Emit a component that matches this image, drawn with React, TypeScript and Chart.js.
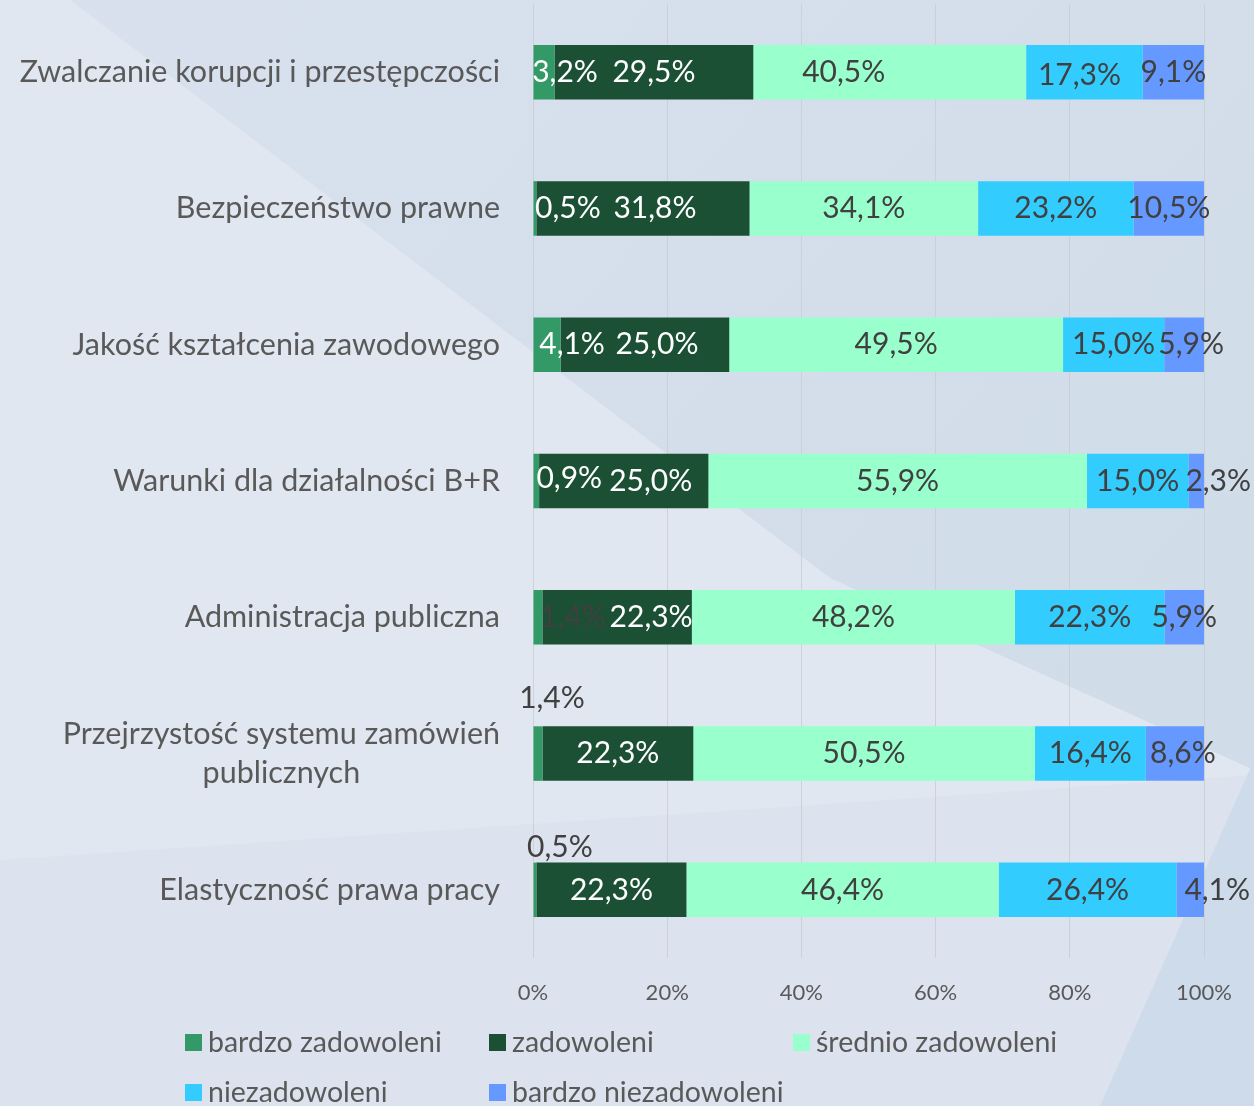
import React, { useEffect, useRef } from "react";
import { Chart, registerables } from "chart.js";

Chart.register(...registerables);

const categories: (string | string[])[] = [
  "Zwalczanie korupcji i przestępczości",
  "Bezpieczeństwo prawne",
  "Jakość kształcenia zawodowego",
  "Warunki dla działalności B+R",
  "Administracja publiczna",
  ["Przejrzystość systemu zamówień", "publicznych"],
  "Elastyczność prawa pracy",
];

const seriesNames = [
  "bardzo zadowoleni",
  "zadowoleni",
  "średnio zadowoleni",
  "niezadowoleni",
  "bardzo niezadowoleni",
];

const bardzoZadowoleni = [3.2, 0.5, 4.1, 0.9, 1.4, 1.4, 0.5];
const zadowoleni = [29.5, 31.8, 25.0, 25.0, 22.3, 22.3, 22.3];
const srednioZadowoleni = [40.5, 34.1, 49.5, 55.9, 48.2, 50.5, 46.4];
const niezadowoleni = [17.3, 23.2, 15.0, 15.0, 22.3, 16.4, 26.4];
const bardzoNiezadowoleni = [9.1, 10.5, 5.9, 2.3, 5.9, 8.6, 4.1];

const xTicks = [0, 20, 40, 60, 80, 100];

const seriesColors = ["#339966", "#1b5035", "#99ffcc", "#33ccff", "#6699ff"];

// label styling / manual label nudges (px) per series per category
const labelDx = [
  [21, 33, 25, 33, 35, 14, 25],
  [0, 12, 12, 27, 34, 0, 0],
  [-46, 0, 0, 0, 0, 0, 0],
  [-5, 0, 0, 0, 0, 0, 0],
  [0, 0, 7, 22, 0, 8, 27],
];
const labelDy = [
  [0, 0, 0, -3, 0, -55, -43],
  [0, 0, 0, 0, 0, 0, 0],
  [0, 0, 0, 0, 0, 0, 0],
  [3, 0, 0, 0, 0, 0, 0],
  [0, 0, 0, 0, 0, 0, 0],
];
const DARK = "#404040";
const labelColors = [
  ["#ffffff", "#ffffff", "#ffffff", "#ffffff", DARK, DARK, DARK],
  Array(7).fill("#ffffff"),
  Array(7).fill(DARK),
  Array(7).fill(DARK),
  Array(7).fill(DARK),
];

const FONT = "Lato, 'Noto Sans', sans-serif";
const TEXT = "#595959";
const CAT_FONT_SIZE = 30.5;
const CAT_LINE_H = 39;
const CAT_PAD = 33;

const rawSeries = [
  bardzoZadowoleni,
  zadowoleni,
  srednioZadowoleni,
  niezadowoleni,
  bardzoNiezadowoleni,
];
const rowSums = categories.map((_, i) =>
  rawSeries.reduce((s, arr) => s + arr[i], 0)
);

const fmt = (v: number) => v.toFixed(1).replace(".", ",") + "%";

const backgroundPlugin = {
  id: "bg",
  beforeDraw(chart: any) {
    const ctx = chart.ctx as CanvasRenderingContext2D;
    const w = chart.width;
    const h = chart.height;
    ctx.save();
    ctx.fillStyle = "#e1e7f0";
    ctx.fillRect(0, 0, w, h);
    const g = ctx.createLinearGradient(0, 0, w, h);
    g.addColorStop(0, "#d9e1ee");
    g.addColorStop(1, "#cfdbe8");
    ctx.fillStyle = g;
    ctx.beginPath();
    ctx.moveTo(70, 0);
    ctx.lineTo(w, 0);
    ctx.lineTo(w, 770);
    ctx.lineTo(830, 578);
    ctx.closePath();
    ctx.fill();
    ctx.fillStyle = "#dce3ef";
    ctx.beginPath();
    ctx.moveTo(0, 860);
    ctx.lineTo(w, 775);
    ctx.lineTo(w, h);
    ctx.lineTo(0, h);
    ctx.closePath();
    ctx.fill();
    ctx.fillStyle = "#cedbea";
    ctx.beginPath();
    ctx.moveTo(w, 760);
    ctx.lineTo(w, h);
    ctx.lineTo(1100, h);
    ctx.closePath();
    ctx.fill();
    ctx.restore();
  },
};

// category labels: right-aligned block, multi-line lines centred within block
const categoryLabelsPlugin = {
  id: "catLabels",
  afterDraw(chart: any) {
    const ctx = chart.ctx as CanvasRenderingContext2D;
    const yScale = chart.scales.y;
    const right = chart.chartArea.left - CAT_PAD;
    ctx.save();
    ctx.font = `${CAT_FONT_SIZE}px ${FONT}`;
    ctx.fillStyle = TEXT;
    ctx.textBaseline = "middle";
    ctx.textAlign = "center";
    categories.forEach((lab, i) => {
      const lines = Array.isArray(lab) ? lab : [lab];
      const y = yScale.getPixelForTick(i);
      const widths = lines.map((l) => ctx.measureText(l).width);
      const blockW = Math.max(...widths);
      const cx = right - blockW / 2;
      const y0 = y - ((lines.length - 1) * CAT_LINE_H) / 2;
      lines.forEach((l, k) => ctx.fillText(l, cx, y0 + k * CAT_LINE_H));
    });
    ctx.restore();
  },
};

const labelsPlugin = {
  id: "segLabels",
  afterDatasetsDraw(chart: any) {
    const ctx = chart.ctx as CanvasRenderingContext2D;
    ctx.save();
    ctx.font = `30px ${FONT}`;
    ctx.textAlign = "center";
    ctx.textBaseline = "middle";
    chart.data.datasets.forEach((ds: any, di: number) => {
      const meta = chart.getDatasetMeta(di);
      meta.data.forEach((bar: any, i: number) => {
        const p = bar.getProps(["x", "y", "base"], true);
        const cx = (p.x + p.base) / 2 + labelDx[di][i];
        const cy = p.y + labelDy[di][i];
        ctx.fillStyle = labelColors[di][i];
        ctx.fillText(fmt(rawSeries[di][i]), cx, cy);
      });
    });
    ctx.restore();
  },
};

const legendPlugin = {
  id: "customLegend",
  afterDraw(chart: any) {
    const ctx = chart.ctx as CanvasRenderingContext2D;
    const cols = [185, 489, 793];
    const rows = [1043, 1093];
    ctx.save();
    ctx.font = `28.5px ${FONT}`;
    ctx.textAlign = "left";
    ctx.textBaseline = "middle";
    seriesNames.forEach((name, i) => {
      const x = cols[i % 3];
      const y = rows[Math.floor(i / 3)];
      ctx.fillStyle = seriesColors[i];
      ctx.fillRect(x, y - 9, 17, 17);
      ctx.fillStyle = TEXT;
      ctx.fillText(name, x + 23, y);
    });
    ctx.restore();
  },
};

export default function App() {
  const ref = useRef<HTMLCanvasElement | null>(null);

  useEffect(() => {
    document.body.style.margin = "0";
    if (!ref.current) return;
    const chart = new Chart(ref.current, {
      type: "bar",
      data: {
        labels: categories,
        datasets: rawSeries.map((arr, di) => ({
          label: seriesNames[di],
          data: arr.map((v, i) => (v / rowSums[i]) * 100),
          backgroundColor: seriesColors[di],
          borderWidth: 0,
          categoryPercentage: 0.8,
          barPercentage: 0.5,
        })),
      },
      options: {
        indexAxis: "y",
        responsive: false,
        animation: false,
        layout: { padding: { top: 4, right: 50, left: 0, bottom: 0 } },
        plugins: {
          legend: { display: false },
          tooltip: { enabled: false },
        },
        scales: {
          x: {
            stacked: true,
            min: 0,
            max: 100,
            afterBuildTicks: (scale: any) => {
              scale.ticks = xTicks.map((v) => ({ value: v }));
            },
            afterFit: (scale: any) => {
              scale.height = 148;
            },
            grid: { color: "rgba(200,204,210,0.8)", lineWidth: 1, drawTicks: false },
            border: { display: false },
            ticks: {
              padding: 22,
              color: TEXT,
              font: { family: FONT, size: 22 },
              callback: (v: any) => v + "%",
            },
          },
          y: {
            stacked: true,
            afterFit: (scale: any) => {
              scale.width = 533;
              scale.paddingTop = 0;
              scale.paddingBottom = 0;
            },
            grid: { display: false, drawTicks: false },
            border: { display: false },
            ticks: { display: false },
          },
        },
      },
      plugins: [backgroundPlugin, labelsPlugin, categoryLabelsPlugin, legendPlugin],
    } as any);
    return () => chart.destroy();
  }, []);

  return (
    <div style={{ width: 1254, height: 1106 }}>
      <canvas ref={ref} width={1254} height={1106} style={{ display: "block" }} />
    </div>
  );
}
